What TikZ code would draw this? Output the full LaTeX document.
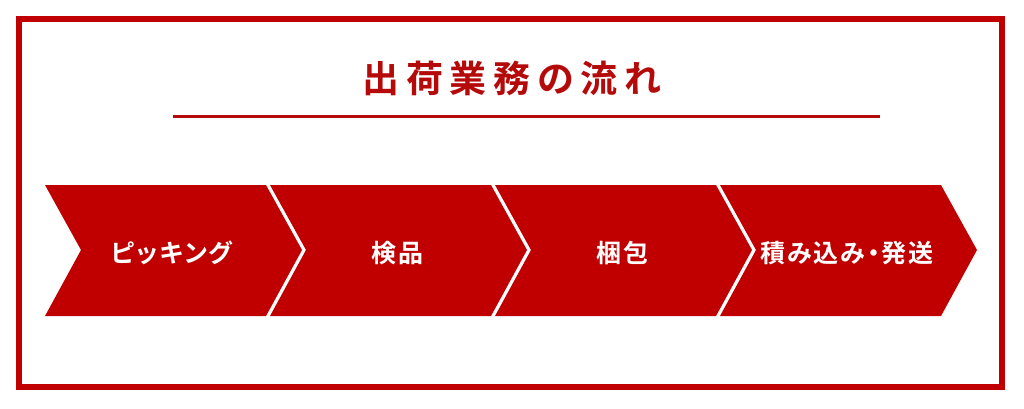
\documentclass[tikz,border=0pt]{standalone}
\usepackage{fontspec}
\setmainfont{Noto Sans CJK JP}[BoldFont={* Bold}]
\newfontfamily\titlefont{Noto Sans CJK JP Bold}[LetterSpace=18]
\newfontfamily\labelfont{Noto Sans CJK JP Bold}[LetterSpace=8, RawFeature=+palt]
\usetikzlibrary{positioning}
\definecolor{shipred}{RGB}{192,0,0}
\definecolor{titlered}{RGB}{180,10,10}
\tikzset{
	chevron/.style={fill=shipred, draw=none},
	steplabel/.style={text=white, font=\labelfont\fontsize{25}{28}\selectfont, inner sep=0pt},
}

\begin{document}
\begin{tikzpicture}[x=1pt, y=-1pt]
	\useasboundingbox (0,0) rectangle (1024,408);
	\draw [shipred, line width=6pt] (19,19) rectangle (1001.5,386.5);
	\node (T1) at (512,78) [text=titlered, font=\titlefont\fontsize{37}{40}\selectfont, inner sep=0pt]{出荷業務の流れ\hspace{-6.6pt}};
	\coordinate (L1) at (173,116.5); \coordinate (L2) at (880,116.5);
	\draw [titlered, line width=3.5pt] (L1)--(L2);
	% chevrons
	\foreach \i/\txt in {0/ピッキング, 1/検品, 2/梱包, 3/積み込み・発送}{
		\fill [chevron] (45+225*\i,185) -- ++(221,0) -- ++(36,65) -- ++(-36,66) -- ++(-221,0) -- ++(36,-66) -- cycle;
		\node (S\i) at (172+225*\i,253) [steplabel]{\txt\hspace{-2pt}};
	}
	\end{tikzpicture}
\end{document}
